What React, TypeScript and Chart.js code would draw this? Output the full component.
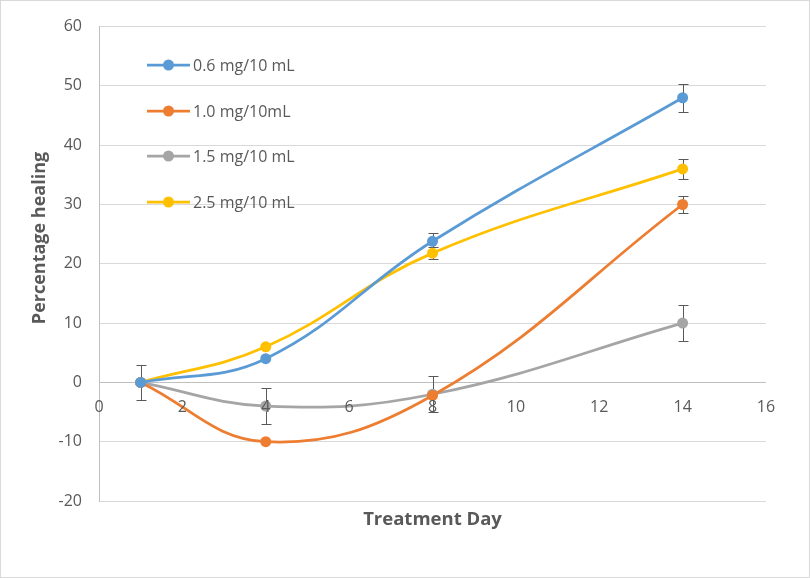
import React, { useEffect, useRef } from "react";
import { Chart, registerables } from "chart.js";

Chart.register(...registerables);

const days = [1, 4, 8, 14];
const seriesNames = ["0.6 mg/10 mL", "1.0 mg/10mL", "1.5 mg/10 mL", "2.5 mg/10 mL"];
const dose06 = [0, 4, 23.8, 48];
const dose10 = [0, -10, -2.2, 30];
const dose15 = [0, -4, -2, 10];
const dose25 = [0, 6, 21.8, 36];
const err06 = [0, 0, 1.4, 2.4];
const err10 = [0, 0, 0, 1.5];
const err15 = [3, 3, 3, 3];
const err25 = [0, 0, 1, 1.7];
const seriesColors = ["#5B9BD5", "#ED7D31", "#A5A5A5", "#FFC000"];
const xAxis = { min: 0, max: 16, step: 2 };
const yAxis = { min: -20, max: 60, step: 10 };
const xTitle = "Treatment Day";
const yTitle = "Percentage healing";

const values = [dose06, dose10, dose15, dose25];
const errors = [err06, err10, err15, err25];

const TEXT = "#595959";
const FONT = "'Open Sans', 'Noto Sans', sans-serif";

const frameAndTitles = {
  id: "frameAndTitles",
  beforeDraw(chart: any) {
    const { ctx, width, height, chartArea } = chart;
    ctx.save();
    ctx.fillStyle = "#ffffff";
    ctx.fillRect(0, 0, width, height);
    ctx.strokeStyle = "#d9d9d9";
    ctx.lineWidth = 1;
    ctx.strokeRect(0.5, 0.5, width - 1, height - 1);
    ctx.fillStyle = TEXT;
    ctx.font = `bold 18.5px ${FONT}`;
    ctx.textAlign = "center";
    ctx.textBaseline = "middle";
    ctx.fillText(xTitle, (chartArea.left + chartArea.right) / 2, 520);
    ctx.font = `bold 18px ${FONT}`;
    ctx.translate(40, 238);
    ctx.rotate(-Math.PI / 2);
    ctx.fillText(yTitle, 0, 0);
    ctx.restore();
  },
};

const errorBars = {
  id: "errorBars",
  beforeDatasetsDraw(chart: any) {
    const { ctx } = chart;
    const xs = chart.scales.x;
    const ys = chart.scales.y;
    ctx.save();
    ctx.strokeStyle = "#595959";
    ctx.lineWidth = 1;
    errors.forEach((errs, i) => {
      errs.forEach((e, j) => {
        if (!e) return;
        const v = values[i][j];
        const x = Math.round(xs.getPixelForValue(days[j])) + 0.5;
        const y1 = Math.round(ys.getPixelForValue(v + e)) + 0.5;
        const y2 = Math.round(ys.getPixelForValue(v - e)) + 0.5;
        ctx.beginPath();
        ctx.moveTo(x, y1);
        ctx.lineTo(x, y2);
        ctx.moveTo(x - 5, y1);
        ctx.lineTo(x + 5, y1);
        ctx.moveTo(x - 5, y2);
        ctx.lineTo(x + 5, y2);
        ctx.stroke();
      });
    });
    ctx.restore();
  },
};

const legendRows = [65, 111, 156, 202];

const customLegend = {
  id: "customLegend",
  afterDraw(chart: any) {
    const { ctx } = chart;
    ctx.save();
    seriesNames.forEach((name, i) => {
      const y = legendRows[i];
      ctx.strokeStyle = seriesColors[i];
      ctx.lineWidth = 2.75;
      ctx.beginPath();
      ctx.moveTo(147, y);
      ctx.lineTo(190, y);
      ctx.stroke();
      ctx.fillStyle = seriesColors[i];
      ctx.beginPath();
      ctx.arc(168.5, y, 5.5, 0, Math.PI * 2);
      ctx.fill();
      ctx.fillStyle = TEXT;
      ctx.font = `16px ${FONT}`;
      ctx.textAlign = "left";
      ctx.textBaseline = "middle";
      ctx.fillText(name, 193, y + 1);
    });
    ctx.restore();
  },
};

export default function App() {
  const ref = useRef<HTMLCanvasElement>(null);
  useEffect(() => {
    document.body.style.margin = "0";
    if (!ref.current) return;
    const chart = new Chart(ref.current, {
      type: "line",
      data: {
        datasets: seriesNames.map((name, i) => ({
          label: name,
          data: days.map((d, j) => ({ x: d, y: values[i][j] })),
          borderColor: seriesColors[i],
          backgroundColor: seriesColors[i],
          pointBackgroundColor: seriesColors[i],
          pointBorderColor: seriesColors[i],
          borderWidth: 2.75,
          pointRadius: 5.5,
          pointBorderWidth: 0,
          tension: 0.4,
          fill: false,
        })),
      },
      options: {
        responsive: false,
        animation: false,
        layout: { padding: { left: 0, top: 25, right: 44, bottom: 77 } },
        plugins: {
          legend: { display: false },
          tooltip: { enabled: false },
        },
        scales: {
          x: {
            type: "linear",
            position: { y: 0 },
            min: xAxis.min,
            max: xAxis.max,
            ticks: {
              stepSize: xAxis.step,
              color: TEXT,
              font: { family: FONT, size: 16 },
              padding: 15,
              z: 1,
            },
            grid: { display: false, drawTicks: false },
            border: { display: false },
          },
          y: {
            type: "linear",
            min: yAxis.min,
            max: yAxis.max,
            ticks: {
              stepSize: yAxis.step,
              color: TEXT,
              font: { family: FONT, size: 16 },
              padding: 17,
            },
            grid: {
              drawTicks: false,
              color: (c: any) => (c.tick && c.tick.value === 0 ? "#bfbfbf" : "#d9d9d9"),
            },
            border: { display: true, color: "#bfbfbf" },
            afterFit: (scale: any) => {
              scale.width = 99;
            },
          },
        },
      },
      plugins: [frameAndTitles, errorBars, customLegend],
    } as any);
    return () => chart.destroy();
  }, []);
  return (
    <div style={{ width: 810, height: 578 }}>
      <canvas ref={ref} width={810} height={578} />
    </div>
  );
}
